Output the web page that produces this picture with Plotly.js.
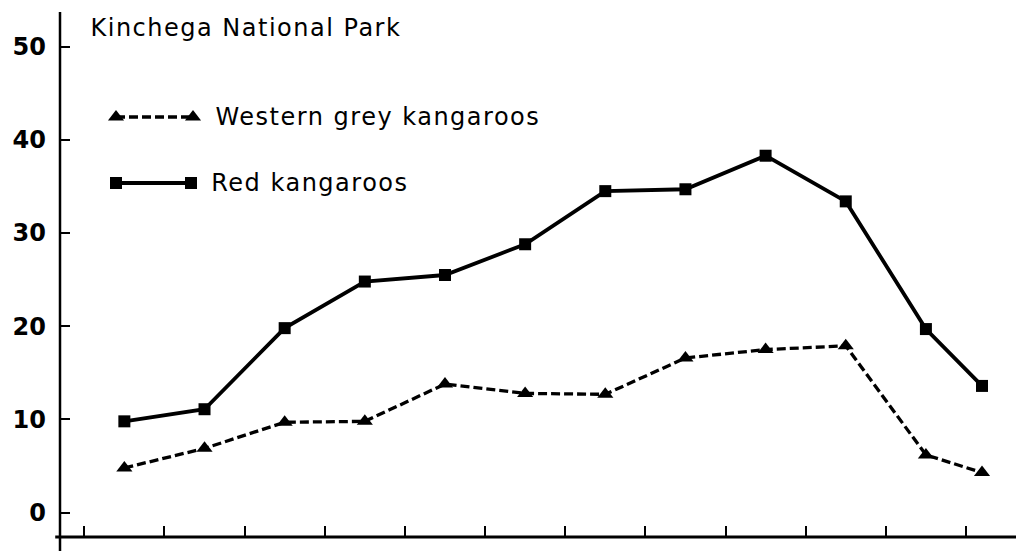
<!DOCTYPE html>
<html>
<head>
<meta charset="utf-8">
<script src="https://cdn.plot.ly/plotly-3.0.1.min.js"></script>
<style>
html,body{margin:0;padding:0;background:#fff;}
#chart{width:1016px;height:551px;}
#chart .annotation-text{letter-spacing:1.5px;}
</style>
</head>
<body>
<div id="chart"></div>
<script>
// Data
const periodPositions = [0.5, 1.5, 2.5, 3.5, 4.5, 5.5, 6.5, 7.5, 8.5, 9.5, 10.5, 11.2];
const redKangaroos = [9.8, 11.1, 19.8, 24.8, 25.5, 28.8, 34.5, 34.7, 38.3, 33.4, 19.7, 13.6];
const westernGreyKangaroos = [4.8, 6.9, 9.7, 9.8, 13.8, 12.8, 12.7, 16.6, 17.5, 17.9, 6.2, 4.3];
const xTickPositions = [0, 1, 2, 3, 4, 5, 6, 7, 8, 9, 10, 11];
const yTickValues = [0, 10, 20, 30, 40, 50];
const yTickLabels = ['0', '10', '20', '30', '40', '50'];
const seriesNames = ['Western grey kangaroos', 'Red kangaroos'];
const chartTitle = 'Kinchega National Park';

const textFont = 'DejaVu Sans, Liberation Sans, sans-serif';
const letterSpacing = 1.5; // must match the CSS rule above
// Plotly centres text measured without CSS letter-spacing; shift to keep the left edge fixed
const leftAt = (px, s) => px + s.length * letterSpacing / 2;

const greyStyle = {
  line: {color: '#000', width: 3.3, dash: '9px,4px'},
  marker: {symbol: 'triangle-up', size: 14, color: '#000'}
};
const redStyle = {
  line: {color: '#000', width: 3.8},
  marker: {symbol: 'square', size: 12, color: '#000'}
};

const traces = [
  {x: periodPositions, y: westernGreyKangaroos, type: 'scatter', mode: 'lines+markers',
   name: seriesNames[0], line: greyStyle.line, marker: greyStyle.marker, showlegend: false},
  {x: periodPositions, y: redKangaroos, type: 'scatter', mode: 'lines+markers',
   name: seriesNames[1], line: redStyle.line, marker: redStyle.marker, showlegend: false},
  // legend keys drawn on an overlay axis measured in pixels
  {x: [116, 193], y: [117, 117], xaxis: 'x2', yaxis: 'y2', type: 'scatter', mode: 'lines+markers',
   line: greyStyle.line, marker: greyStyle.marker, showlegend: false, hoverinfo: 'skip'},
  {x: [116, 191], y: [183, 183], xaxis: 'x2', yaxis: 'y2', type: 'scatter', mode: 'lines+markers',
   line: redStyle.line, marker: redStyle.marker, showlegend: false, hoverinfo: 'skip'}
];

const layout = {
  width: 1016, height: 551,
  margin: {l: 60, r: 0, t: 12, b: 14},
  paper_bgcolor: '#fff', plot_bgcolor: '#fff',
  showlegend: false,
  xaxis: {
    range: [-0.303, 11.624], showgrid: false, zeroline: false, showline: false,
    tickmode: 'array', tickvals: xTickPositions, ticktext: xTickPositions.map(() => ''),
    ticks: 'inside', ticklen: 11, tickwidth: 2, tickcolor: '#000', showticklabels: false
  },
  yaxis: {
    range: [-2.61, 53.72], showgrid: false, zeroline: false, showline: false,
    tickmode: 'array', tickvals: yTickValues, ticktext: yTickLabels,
    ticks: 'inside', ticklen: 10, tickwidth: 2, tickcolor: '#000',
    ticklabelstandoff: 13,
    tickfont: {family: 'DejaVu Sans, sans-serif', size: 24, color: '#000', weight: 'bold'}
  },
  xaxis2: {overlaying: 'x', anchor: 'y2', range: [60, 1016], visible: false, fixedrange: true},
  yaxis2: {overlaying: 'y', anchor: 'x2', range: [537, 12], visible: false, fixedrange: true},
  shapes: [
    {type: 'line', xref: 'paper', yref: 'paper', x0: 0, x1: 0, y0: 1, y1: -0.03, line: {color: '#000', width: 2.5}},
    {type: 'line', xref: 'paper', yref: 'paper', x0: -0.005, x1: 1, y0: 0, y1: 0, line: {color: '#000', width: 3}}
  ],
  annotations: [
    {xref: 'x2', yref: 'y2', x: leftAt(88, chartTitle), y: 28, xanchor: 'left', yanchor: 'middle', showarrow: false,
     text: chartTitle, font: {family: textFont, size: 24, color: '#000'}},
    {xref: 'x2', yref: 'y2', x: leftAt(213, seriesNames[0]), y: 117, xanchor: 'left', yanchor: 'middle', showarrow: false,
     text: seriesNames[0], font: {family: textFont, size: 24, color: '#000'}},
    {xref: 'x2', yref: 'y2', x: leftAt(209, seriesNames[1]), y: 183, xanchor: 'left', yanchor: 'middle', showarrow: false,
     text: seriesNames[1], font: {family: textFont, size: 24, color: '#000'}}
  ]
};

Plotly.newPlot('chart', traces, layout, {displayModeBar: false, staticPlot: true});
</script>
</body>
</html>
